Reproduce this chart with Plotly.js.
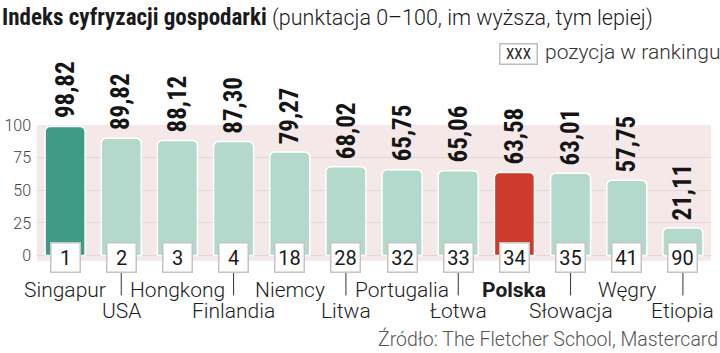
<!DOCTYPE html>
<html><head><meta charset="utf-8">
<script src="https://cdn.plot.ly/plotly-3.0.1.min.js"></script>
<style>body{margin:0;background:#fff}#c{width:720px;height:353px}</style>
</head><body><div id="c"></div>
<script>
const countries = ["Singapur","USA","Hongkong","Finlandia","Niemcy","Litwa","Portugalia","Łotwa","Polska","Słowacja","Węgry","Etiopia"];
const scores = [98.82,89.82,88.12,87.30,79.27,68.02,65.75,65.06,63.58,63.01,57.75,21.11];
const ranks = [1,2,3,4,18,28,32,33,34,35,41,90];
const yTicks = [0,25,50,75,100];
const titleBold = "Indeks cyfryzacji gospodarki";
const titleRest = "(punktacja 0–100, im wyższa, tym lepiej)";
const legendBox = "XXX";
const legendText = "pozycja w rankingu";
const sourceText = "Źródło: The Fletcher School, Mastercard";

const W = 720, H = 353, MT = 125, MB = 53, ML = 37, MR = 9;
const YMIN = -34, YMAX = 100;
const PH = H - MT - MB, PW = W - ML - MR;
const py = Y => (H - MB - Y) / PH;   // pixel row -> paper y
const px = X => (X - ML) / PW;       // pixel col -> paper x

const TEAL_DARK = "#3f9a86", TEAL = "#b3d8cc", RED = "#cf3b2a";
const colors = countries.map((c,i)=> i===0 ? TEAL_DARK : (c==="Polska" ? RED : TEAL));
const fmt = v => v.toFixed(2).replace(".", ",");

const bars = {
  type: "bar", x: countries, y: scores,
  marker: {color: colors, line: {color: "#ffffff", width: 1.5}, cornerradius: 5},
  hoverinfo: "none", cliponaxis: false
};

// leader lines for the lower row of labels (decoration below the axis)
const LEAD_TOP = -13, LEAD_BOT = -30.5;
const leadX = [], leadY = [];
countries.forEach((c,i)=>{ if (i % 2 === 1) { leadX.push(c, c, null); leadY.push(LEAD_TOP, LEAD_BOT, null); } });
const leaders = {type:"scatter", mode:"lines", x:leadX, y:leadY, line:{color:"#333", width:1},
  hoverinfo:"none", showlegend:false, connectgaps:false};

const annotations = [];
const shapes = [{type:"rect", xref:"x", yref:"y", x0:-0.5, x1:countries.length-0.5, y0:-4, y1:100,
  fillcolor:"#f4e8e8", line:{width:0}, layer:"below"}];

countries.forEach((c,i)=>{
  annotations.push({x:c, y:scores[i], xref:"x", yref:"y", text:"<b>"+fmt(scores[i])+"</b>",
    textangle:-90, showarrow:false, xanchor:"center", yanchor:"bottom", yshift:6,
    font:{family:"Roboto Condensed", size:25, color:"#151515"}});
  annotations.push({x:c, y:0, xref:"x", yref:"y", text:String(ranks[i]), showarrow:false,
    xanchor:"center", yanchor:"middle", yshift:-2, width:26, height:26, borderpad:1,
    bgcolor:"#ffffff", bordercolor:"#c4c4c4", borderwidth:1.5,
    font:{family:"Roboto", size:20, color:"#1a1a1a"}});
  const lower = i % 2 === 1;
  annotations.push({x:c, y:-4, xref:"x", yref:"y", text: c==="Polska" ? "<b>"+c+"</b>" : c,
    showarrow:false, xanchor:"center", yanchor:"middle", yshift: lower ? -50 : -29,
    font:{family:"Roboto", weight:300, size:21, color:"#1d1d1d"}});
});
annotations.push({xref:"paper", yref:"paper", x:px(538), y:py(53.5), xanchor:"right", yanchor:"middle",
  text:legendBox, showarrow:false, width:34, height:17, borderpad:1, bgcolor:"#fff", bordercolor:"#bdbdbd", borderwidth:1.5,
  font:{family:"Roboto Condensed", size:15, color:"#222"}});
annotations.push({xref:"paper", yref:"paper", x:px(723), y:py(52), xanchor:"right", yanchor:"middle",
  text:legendText, showarrow:false, font:{family:"Roboto", weight:300, size:21, color:"#333"}});
annotations.push({xref:"paper", yref:"paper", x:px(720), y:py(339), xanchor:"right", yanchor:"middle",
  text:sourceText, showarrow:false, font:{family:"Roboto", weight:300, size:19.5, color:"#555"}});

const layout = {
  width:W, height:H,
  margin:{l:ML, r:MR, t:MT, b:MB},
  paper_bgcolor:"#fff", plot_bgcolor:"rgba(0,0,0,0)",
  bargap:0.288, showlegend:false,
  title:{text:"<span style='font-family:Roboto Condensed;font-weight:bold;font-size:23px'>"+titleBold+"</span> "+titleRest,
    xref:"container", yref:"container", x:2/W, xanchor:"left", y:1-10/H, yanchor:"top",
    font:{family:"Roboto", weight:300, size:21.5, color:"#1a1a1a"}},
  xaxis:{type:"category", range:[-0.5, countries.length-0.5], showticklabels:false, showgrid:false, zeroline:false, showline:false, ticks:""},
  yaxis:{range:[YMIN, YMAX], tickvals:yTicks, showgrid:true, gridcolor:"#e6d5d5", gridwidth:1, zeroline:false, showline:false,
    ticks:"", ticklabelstandoff:5, tickfont:{family:"Roboto", weight:300, size:16, color:"#444"}},
  annotations, shapes
};
Plotly.newPlot("c", [bars, leaders], layout, {displayModeBar:false, staticPlot:true});
</script></body></html>
